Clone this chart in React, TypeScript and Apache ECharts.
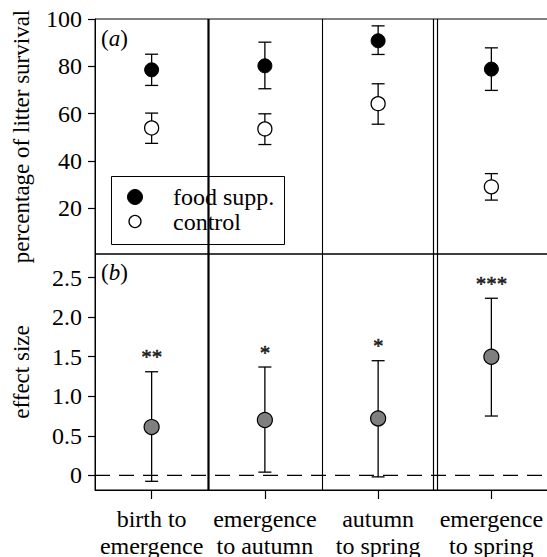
import React, { useEffect, useRef } from 'react';
import * as echarts from 'echarts';

const categories = ['birth to\nemergence', 'emergence\nto autumn', 'autumn\nto spring', 'emergence\nto spring'];
const foodMean = [78.5, 80.2, 90.8, 78.8];
const foodLow = [71.9, 70.5, 85.0, 69.8];
const foodHigh = [85.1, 90.2, 97.1, 87.8];
const ctrlMean = [53.9, 53.5, 64.2, 29.0];
const ctrlLow = [47.4, 46.9, 55.5, 23.4];
const ctrlHigh = [60.2, 59.9, 72.6, 34.6];
const effMean = [0.61, 0.70, 0.72, 1.50];
const effLow = [-0.076, 0.04, -0.02, 0.75];
const effHigh = [1.31, 1.37, 1.45, 2.24];
const signif = ['**', '*', '*', '***'];
const survivalTicks = [20, 40, 60, 80, 100];
const effectTicks = [0, 0.5, 1, 1.5, 2, 2.5];
const legendLabels = ['food supp.', 'control'];
const dividerKinds = ['thick', 'thin', 'double'];

const FONT = "'Liberation Serif', 'Times New Roman', serif";

const errorBarItem = (params: any, api: any) => {
  const i = api.value(0);
  const top = api.coord([i, api.value(2)]);
  const bot = api.coord([i, api.value(1)]);
  const half = 6.5;
  const style = { stroke: '#000', lineWidth: 1.3 };
  return {
    type: 'group',
    children: [
      { type: 'line', shape: { x1: top[0], y1: top[1], x2: bot[0], y2: bot[1] }, style },
      { type: 'line', shape: { x1: top[0] - half, y1: top[1], x2: top[0] + half, y2: top[1] }, style },
      { type: 'line', shape: { x1: bot[0] - half, y1: bot[1], x2: bot[0] + half, y2: bot[1] }, style },
    ],
  };
};

const dividerItem = (params: any, api: any) => {
  const i = api.value(0);
  const c = api.coord([i, api.value(1)]);
  const bw = api.size([1, 0])[0];
  const x = Math.round(c[0] + bw / 2) + 0.5;
  const cs = params.coordSys;
  const y1 = cs.y;
  const y2 = cs.y + cs.height;
  const kind = dividerKinds[i];
  if (kind === 'double') {
    return {
      type: 'group',
      children: [
        { type: 'line', shape: { x1: x - 2, y1, x2: x - 2, y2 }, style: { stroke: '#000', lineWidth: 1.2 } },
        { type: 'line', shape: { x1: x + 2, y1, x2: x + 2, y2 }, style: { stroke: '#000', lineWidth: 1.2 } },
      ],
    };
  }
  return {
    type: 'line',
    shape: { x1: x, y1, x2: x, y2 },
    style: { stroke: '#000', lineWidth: kind === 'thick' ? 2.2 : 1.1 },
  };
};

const zeroLineItem = (params: any, api: any) => {
  const p = api.coord([0, api.value(1)]);
  const cs = params.coordSys;
  return {
    type: 'line',
    shape: { x1: cs.x, y1: p[1], x2: cs.x + cs.width, y2: p[1] },
    style: { stroke: '#000', lineWidth: 1.2, lineDash: [15, 9] },
  };
};

const labelStyle = { fontSize: 24, fontFamily: FONT, color: '#000' };

export default function App() {
  const ref = useRef<HTMLDivElement>(null);
  useEffect(() => {
    if (!ref.current) return;
    const chart = echarts.init(ref.current, undefined, { renderer: 'svg' });
    const idx = categories.map((_, i) => i);
    const option: any = {
      animation: false,
      backgroundColor: '#fff',
      textStyle: { fontFamily: FONT },
      grid: [
        { left: 95, top: 19, width: 453, height: 235, show: true, borderColor: '#000', borderWidth: 1, backgroundColor: 'transparent', outerBoundsMode: 'none', containLabel: false },
        { left: 95, top: 254, width: 453, height: 236, show: true, borderColor: '#000', borderWidth: 1, backgroundColor: 'transparent', outerBoundsMode: 'none', containLabel: false },
      ],
      xAxis: [
        {
          type: 'category', gridIndex: 0, data: categories,
          axisLine: { show: false, onZero: false }, axisTick: { show: false }, axisLabel: { show: false }, splitLine: { show: false },
        },
        {
          type: 'category', gridIndex: 1, data: categories,
          axisLine: { show: true, onZero: false, lineStyle: { color: '#000', width: 1 } },
          axisTick: { show: true, alignWithLabel: true, length: 9, lineStyle: { color: '#000', width: 1.2 } },
          axisLabel: { ...labelStyle, margin: 15, lineHeight: 27, interval: 0 },
          splitLine: { show: false },
        },
      ],
      yAxis: [
        {
          type: 'value', gridIndex: 0, min: 0.6, max: 100,
          name: 'percentage of litter survival', nameLocation: 'middle', nameGap: 62,
          nameTextStyle: { ...labelStyle, fontSize: 23 },
          axisLine: { show: true, lineStyle: { color: '#000', width: 1 } },
          axisTick: { show: true, length: 7, customValues: survivalTicks, lineStyle: { color: '#000', width: 1.2 } },
          axisLabel: { ...labelStyle, margin: 13, customValues: survivalTicks },
          splitLine: { show: false },
        },
        {
          type: 'value', gridIndex: 1, min: -0.186, max: 2.8,
          name: 'effect size', nameLocation: 'middle', nameGap: 62,
          nameTextStyle: { ...labelStyle, fontSize: 23 },
          axisLine: { show: true, lineStyle: { color: '#000', width: 1 } },
          axisTick: { show: true, length: 7, customValues: effectTicks, lineStyle: { color: '#000', width: 1.2 } },
          axisLabel: {
            ...labelStyle, margin: 13, customValues: effectTicks,
            formatter: (v: number) => (v === 0 ? '0' : v.toFixed(1)),
          },
          splitLine: { show: false },
        },
      ],
      series: [
        {
          type: 'custom', xAxisIndex: 0, yAxisIndex: 0, renderItem: dividerItem,
          data: [0, 1, 2].map((i) => [i, 50]), encode: { x: 0, y: 1 }, silent: true, z: 1,
        },
        {
          type: 'custom', xAxisIndex: 1, yAxisIndex: 1, renderItem: dividerItem,
          data: [0, 1, 2].map((i) => [i, 1]), encode: { x: 0, y: 1 }, silent: true, z: 1,
        },
        {
          type: 'custom', xAxisIndex: 1, yAxisIndex: 1, renderItem: zeroLineItem,
          data: [[0, 0]], encode: { x: 0, y: 1 }, silent: true, z: 1,
        },
        {
          type: 'custom', xAxisIndex: 0, yAxisIndex: 0, renderItem: errorBarItem,
          data: idx.map((i) => [i, foodLow[i], foodHigh[i]]), encode: { x: 0, y: [1, 2] }, z: 2,
        },
        {
          type: 'custom', xAxisIndex: 0, yAxisIndex: 0, renderItem: errorBarItem,
          data: idx.map((i) => [i, ctrlLow[i], ctrlHigh[i]]), encode: { x: 0, y: [1, 2] }, z: 2,
        },
        {
          type: 'custom', xAxisIndex: 1, yAxisIndex: 1, renderItem: errorBarItem,
          data: idx.map((i) => [i, effLow[i], effHigh[i]]), encode: { x: 0, y: [1, 2] }, z: 2,
        },
        {
          name: legendLabels[0], type: 'scatter', xAxisIndex: 0, yAxisIndex: 0,
          data: idx.map((i) => [i, foodMean[i]]), symbol: 'circle', symbolSize: 14,
          itemStyle: { color: '#000', borderColor: '#000', borderWidth: 1, opacity: 1 }, z: 3,
        },
        {
          name: legendLabels[1], type: 'scatter', xAxisIndex: 0, yAxisIndex: 0,
          data: idx.map((i) => [i, ctrlMean[i]]), symbol: 'circle', symbolSize: 14,
          itemStyle: { color: '#fff', borderColor: '#000', borderWidth: 1.3, opacity: 1 }, z: 3,
        },
        {
          type: 'scatter', xAxisIndex: 1, yAxisIndex: 1,
          data: idx.map((i) => [i, effMean[i]]), symbol: 'circle', symbolSize: 15,
          itemStyle: { color: '#7f7f7f', borderColor: '#000', borderWidth: 1.2, opacity: 1 }, z: 3,
        },
        {
          type: 'scatter', xAxisIndex: 1, yAxisIndex: 1,
          data: idx.map((i) => [i, effHigh[i]]), symbolSize: 0, silent: true,
          label: {
            show: true, position: 'top', distance: 4,
            formatter: (p: any) => signif[p.dataIndex],
            fontSize: 21, fontFamily: FONT, color: '#000',
            textBorderColor: '#000', textBorderWidth: 0.6,
          },
          z: 4,
        },
      ],
      graphic: [
        {
          type: 'text', left: 101, top: 27, z: 10,
          style: {
            text: '({i|a})', fontSize: 23, fontFamily: FONT, fill: '#000',
            rich: { i: { fontStyle: 'italic', fontSize: 23, fontFamily: FONT } },
          },
        },
        {
          type: 'text', left: 101, top: 261, z: 10,
          style: {
            text: '({i|b})', fontSize: 23, fontFamily: FONT, fill: '#000',
            rich: { i: { fontStyle: 'italic', fontSize: 23, fontFamily: FONT } },
          },
        },
        {
          type: 'group', left: 111, top: 176, z: 10,
          children: [
            { type: 'rect', shape: { x: 0.5, y: 0.5, width: 173, height: 68 }, style: { fill: '#fff', stroke: '#000', lineWidth: 1 } },
            { type: 'circle', shape: { cx: 24, cy: 21, r: 7.5 }, style: { fill: '#000', stroke: '#000', lineWidth: 1 } },
            { type: 'circle', shape: { cx: 24, cy: 45.5, r: 6 }, style: { fill: '#fff', stroke: '#000', lineWidth: 1.3 } },
            { type: 'text', x: 62, y: 21, style: { text: legendLabels[0], fontSize: 24, fontFamily: FONT, fill: '#000', verticalAlign: 'middle' } },
            { type: 'text', x: 62, y: 46, style: { text: legendLabels[1], fontSize: 24, fontFamily: FONT, fill: '#000', verticalAlign: 'middle' } },
          ],
        },
      ],
    };
    chart.setOption(option);
    return () => chart.dispose();
  }, []);
  return <div ref={ref} style={{ position: 'fixed', left: 0, top: 0, width: 547, height: 557, background: '#fff' }} />;
}
